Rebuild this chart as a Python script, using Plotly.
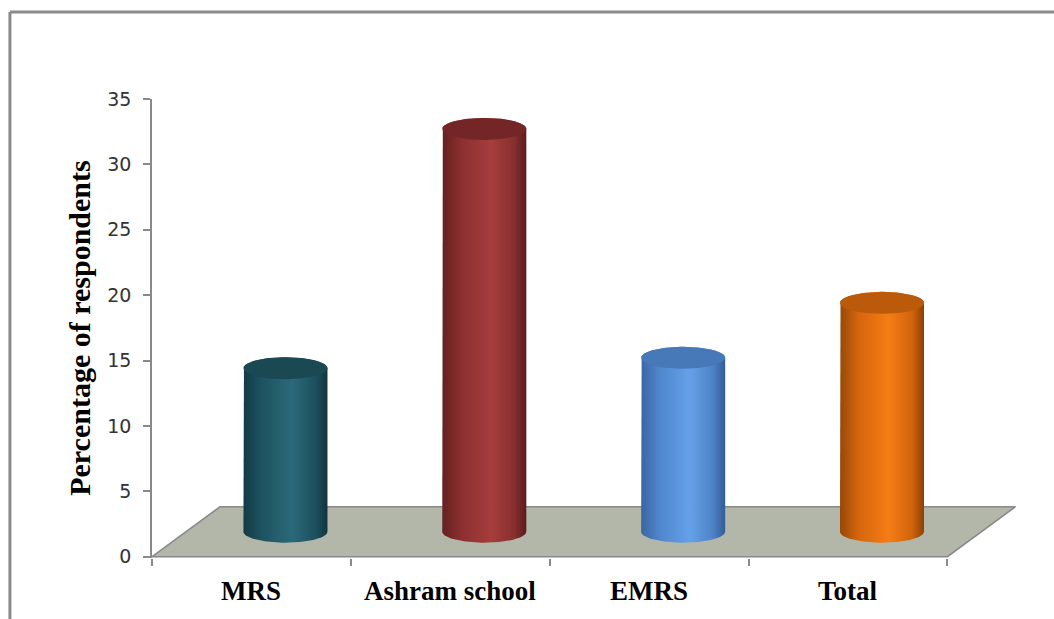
import numpy as np
import plotly.graph_objects as go

# ---------------- data ----------------
categories = ["MRS", "Ashram school", "EMRS", "Total"]
values = [12.5, 30.8, 13.3, 17.5]
y_ticks = [0, 5, 10, 15, 20, 25, 30, 35]
y_title = "Percentage of respondents"

# ---------------- style ----------------
body_scales = [
    [[0, '#133a44'], [0.22, '#1d5361'], [0.58, '#2b6979'], [0.86, '#1c505d'], [1, '#11343d']],
    [[0, '#652020'], [0.22, '#8a2f2f'], [0.58, '#a73d3d'], [0.86, '#872e2e'], [1, '#5a1c1c']],
    [[0, '#3a66a3'], [0.22, '#4f86cc'], [0.58, '#65a1e9'], [0.86, '#4d82c6'], [1, '#335c95']],
    [[0, '#964807'], [0.22, '#d6660d'], [0.58, '#f67c15'], [0.86, '#d0630c'], [1, '#8a4106']],
]
top_colors = ['#1a4853', '#742626', '#4778b8', '#bb5a0a']
floor_fill = '#b3b7a9'
axis_col = '#898989'

# page geometry (pixels)
W_PX, H_PX = 1054, 619
M_L, M_T = 152, 99
X_RANGE = [-0.5, 3.86]
Y_RANGE = [-0.1, 35]
px_per_x = 198.75
px_per_y = 458 / 35
plot_w = px_per_x * (X_RANGE[1] - X_RANGE[0])
plot_h = px_per_y * (Y_RANGE[1] - Y_RANGE[0])
M_R = W_PX - M_L - plot_w
M_B = H_PX - M_T - plot_h

# depth of the 3D floor in data units
DX = 68 / px_per_x
DY = 50 / px_per_y
RX = 42 / px_per_x
RY = 11 / px_per_y


def paper_x(px):
    return (px - M_L) / plot_w


def paper_y(py):
    return (M_T + plot_h - py) / plot_h


fig = go.Figure()

# floor
n = len(categories)
fx = [-0.5, n - 0.5, n - 0.5 + DX, -0.5 + DX, -0.5]
fy = [0, 0, DY, DY, 0]
fig.add_trace(go.Scatter(x=fx, y=fy, mode='lines', fill='toself', fillcolor=floor_fill,
                         line=dict(color=axis_col, width=1.6), hoverinfo='skip', showlegend=False))

# cylinders
for i, (cat, v) in enumerate(zip(categories, values)):
    cx = i + DX / 2
    yb = DY / 2
    yt = yb + v
    th_up = np.linspace(np.pi, 0, 60)
    th_dn = np.linspace(0, -np.pi, 60)
    bx = np.concatenate([[cx - RX], cx + RX * np.cos(th_up), [cx + RX], cx + RX * np.cos(th_dn)])
    by = np.concatenate([[yb], yt + RY * np.sin(th_up), [yb], yb + RY * np.sin(th_dn)])
    fig.add_trace(go.Scatter(x=bx, y=by, mode='lines', fill='toself',
                             fillgradient=dict(type='horizontal', colorscale=body_scales[i]),
                             line=dict(width=0), name=cat, showlegend=False,
                             hovertemplate=f'{cat}: {v}<extra></extra>'))
    th = np.linspace(0, 2 * np.pi, 120)
    fig.add_trace(go.Scatter(x=cx + RX * np.cos(th), y=yt + RY * np.sin(th), mode='lines',
                             fill='toself', fillcolor=top_colors[i], line=dict(width=0),
                             hoverinfo='skip', showlegend=False))

# category labels
for i, cat in enumerate(categories):
    fig.add_annotation(x=i, y=paper_y(591), xref='x', yref='paper', text=f'<b>{cat}</b>',
                       showarrow=False, xanchor='center', yanchor='middle',
                       font=dict(family='Liberation Serif', size=27, color='#000000'))

# y title
fig.add_annotation(x=paper_x(80), y=paper_y(328), xref='paper', yref='paper',
                   text=f'<b>{y_title}</b>', textangle=-90, showarrow=False,
                   xanchor='center', yanchor='middle',
                   font=dict(family='Liberation Serif', size=30, color='#000000'))

# outer frame
fig.add_shape(type='line', xref='paper', yref='paper', x0=paper_x(10), x1=paper_x(10),
              y0=paper_y(12), y1=paper_y(625), line=dict(color='#8a8a8a', width=3))
fig.add_shape(type='line', xref='paper', yref='paper', x0=paper_x(10), x1=paper_x(1060),
              y0=paper_y(12), y1=paper_y(12), line=dict(color='#8a8a8a', width=3))

fig.update_layout(
    width=W_PX, height=H_PX,
    margin=dict(l=M_L, r=M_R, t=M_T, b=M_B, pad=0),
    paper_bgcolor='white', plot_bgcolor='white',
    showlegend=False,
    xaxis=dict(range=X_RANGE, showgrid=False, zeroline=False, showline=False,
               showticklabels=False, ticks='', fixedrange=True,
               minor=dict(tickmode='array', tickvals=[k - 0.5 for k in range(n + 1)],
                          ticks='outside', ticklen=7, tickcolor=axis_col, tickwidth=1.5,
                          showgrid=False)),
    yaxis=dict(range=Y_RANGE, tickvals=y_ticks, showgrid=False, zeroline=False,
               showline=True, linecolor=axis_col, linewidth=1.6,
               ticks='outside', ticklen=7, tickcolor=axis_col, tickwidth=1.5,
               ticklabelstandoff=8,
               tickfont=dict(family='DejaVu Sans', size=19, color='#333333'), fixedrange=True),
)

fig.write_html("out.html")
